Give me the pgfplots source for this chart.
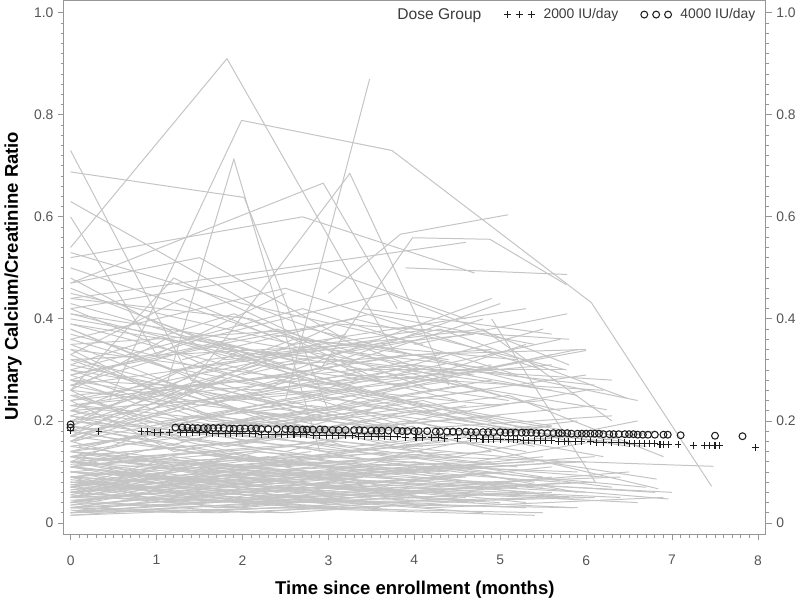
\documentclass[border=0pt]{standalone}
\usepackage{fontspec}
\setmainfont{Liberation Sans}
\usepackage{pgfplots}
\pgfplotsset{compat=1.18}
\usetikzlibrary{calc}
\definecolor{trajgray}{RGB}{196,196,196}
\definecolor{axisgray}{RGB}{150,150,150}
\definecolor{labgray}{RGB}{85,85,85}
\definecolor{legtext}{RGB}{60,60,60}
\definecolor{markblack}{RGB}{30,30,30}

% one grey subject trajectory
\newcommand{\tr}[1]{\addplot[traj] coordinates {#1};}

\pgfplotsset{
  chartbase/.style={
    scale only axis, width=531pt, height=403.5pt,
    xmin=-0.077, xmax=8.09, ymin=-0.022, ymax=1.023,
    axis line style={axisgray, line width=0.75pt},
    tick style={axisgray, line width=0.6pt},
    major tick length=4.5pt, minor tick length=2.5pt,
    tick align=outside,
    ytick={0,0.2,0.4,0.6,0.8,1.0},
    yticklabels={0,0.2,0.4,0.6,0.8,1.0},
    minor y tick num=9,
    tick label style={font=\fontsize{10.5}{12}\selectfont, text=labgray},
    /pgf/number format/assume math mode=true,
  },
  traj/.style={trajgray, line width=0.75pt, forget plot, no markers},
  threemarks/.style={legend image code/.code={
      \draw[##1,mark repeat=1,mark phase=1] plot coordinates {(0pt,0pt) (9pt,0pt) (18pt,0pt)};
      \path (25pt,0pt);}},
}

\begin{document}
\begin{tikzpicture}
\begin{axis}[chartbase,
  xtick={0,1,2,3,4,5,6,7,8}, minor x tick num=9,
  xtick pos=bottom, ytick pos=left,
  xticklabel style={yshift=-8pt},
  xlabel={Time since enrollment (months)},
  ylabel={Urinary Calcium/Creatinine Ratio},
  label style={font=\bfseries\fontsize{14}{16}\selectfont, text=black},
  xlabel style={at={(axis description cs:0.5,-0.105)}, anchor=center},
  ylabel style={at={(axis description cs:-0.0537,0.484)}, anchor=south},
  legend columns=-1,
  legend style={at={(rel axis cs:0.995,0.997)}, anchor=north east, draw=none, fill=none,
    font=\fontsize{10.5}{12}\selectfont, text=legtext,
    /tikz/every even column/.append style={column sep=15pt}},
]
\addlegendimage{empty legend}
\addlegendentry{\fontsize{11.8}{13}\selectfont Dose Group}

% 2000 IU/day
\addplot[only marks, mark=+, mark size=2.6pt, markblack, line width=0.8pt, threemarks] coordinates {
(0,.181)(0.33,.180)(0.82,.179)(0.9,.179)(0.98,.178)(1.05,.178)(1.15,.178)(1.28,.177)
(1.35,.177)(1.42,.177)(1.5,.177)(1.58,.177)(1.65,.176)(1.72,.176)(1.8,.176)(1.86,.176)
(1.93,.175)(2.0,.175)(2.08,.175)(2.15,.175)(2.22,.174)(2.3,.174)(2.38,.174)(2.45,.174)
(2.52,.173)(2.6,.173)(2.68,.173)(2.75,.173)(2.83,.172)(2.9,.172)(2.98,.172)(3.05,.172)
(3.12,.171)(3.2,.171)(3.28,.171)(3.35,.170)(3.42,.170)(3.5,.170)(3.58,.169)(3.65,.169)
(3.72,.169)(3.8,.169)(3.9,.168)(4.02,.168)(4.1,.167)(4.2,.167)(4.28,.167)(4.35,.166)
(4.5,.166)(4.65,.165)(4.72,.165)(4.8,.164)(4.86,.164)(4.92,.164)(5.0,.163)(5.1,.163)
(5.15,.163)(5.2,.163)(5.27,.162)(5.33,.162)(5.4,.162)(5.47,.161)(5.53,.161)(5.6,.161)
(5.68,.160)(5.75,.160)(5.8,.160)(5.88,.159)(5.95,.159)(6.05,.159)(6.12,.158)(6.2,.158)
(6.3,.157)(6.38,.157)(6.45,.157)(6.5,.156)(6.56,.156)(6.62,.156)(6.68,.155)(6.74,.155)
(6.8,.155)(6.86,.154)(6.9,.154)(6.96,.154)(7.07,.153)(7.25,.152)(7.38,.152)(7.44,.151)
(7.5,.151)(7.55,.151)(7.97,.148)
};
\addlegendentry{2000 IU/day}

% 4000 IU/day
\addplot[only marks, mark=o, mark size=2.6pt, markblack, line width=0.8pt, threemarks] coordinates {
(0,.193)(0,.187)(1.22,.187)(1.3,.187)(1.36,.187)(1.42,.186)(1.48,.186)(1.55,.186)(1.6,.186)
(1.66,.186)(1.72,.186)(1.78,.186)(1.85,.185)(1.9,.185)(1.97,.185)(2.03,.185)(2.1,.185)
(2.16,.185)(2.22,.184)(2.3,.184)(2.4,.184)(2.5,.184)(2.56,.184)(2.63,.183)(2.7,.183)
(2.75,.183)(2.82,.183)(2.9,.183)(2.96,.183)(3.05,.182)(3.12,.182)(3.2,.182)(3.3,.182)
(3.36,.182)(3.42,.181)(3.5,.181)(3.56,.181)(3.62,.181)(3.7,.181)(3.8,.181)(3.86,.180)
(3.92,.180)(4.0,.180)(4.05,.180)(4.15,.180)(4.25,.179)(4.3,.179)(4.38,.179)(4.45,.179)
(4.52,.179)(4.6,.179)(4.66,.178)(4.72,.178)(4.8,.178)(4.86,.178)(4.92,.178)(5.0,.178)
(5.06,.177)(5.12,.177)(5.18,.177)(5.25,.177)(5.3,.177)(5.36,.177)(5.42,.176)(5.48,.176)
(5.55,.176)(5.62,.176)(5.68,.176)(5.72,.176)(5.78,.176)(5.83,.175)(5.9,.175)(5.95,.175)
(6.0,.175)(6.05,.175)(6.1,.175)(6.15,.175)(6.2,.174)(6.27,.174)(6.32,.174)(6.38,.174)
(6.45,.174)(6.5,.174)(6.55,.174)(6.6,.173)(6.66,.173)(6.72,.173)(6.8,.173)(6.9,.173)
(6.95,.173)(7.1,.172)(7.5,.171)(7.82,.170)
};
\addlegendentry{4000 IU/day}

% individual subjects: low values
\tr{(0,.05)(1.9,.09)(4.1,.06)}
\tr{(0,.08)(2.3,.04)(5.2,.07)}
\tr{(0,.03)(1.5,.06)(3.8,.04)(6.1,.05)}
\tr{(0.05,.11)(2.0,.07)(4.6,.09)}
\tr{(0,.02)(2.6,.03)(5.5,.02)}
\tr{(0,.07)(1.2,.13)(3.3,.08)}
\tr{(0.1,.09)(2.8,.05)(5.9,.08)}
\tr{(0,.04)(1.7,.08)(4.4,.11)(6.3,.07)}
\tr{(0,.12)(2.4,.06)(4.9,.10)}
\tr{(0,.06)(3.1,.10)(5.8,.05)}
\tr{(0,.015)(2.2,.04)(3.9,.025)}
\tr{(0.05,.10)(1.4,.05)(3.6,.12)(5.4,.08)}
\tr{(0,.035)(2.9,.07)(6.6,.04)}
\tr{(0,.13)(1.8,.10)(4.8,.06)}
\tr{(0,.05)(2.5,.12)(5.1,.07)}
\tr{(0,.09)(1.1,.04)(3.4,.09)}
\tr{(0.1,.025)(2.0,.06)(4.2,.03)(6.9,.05)}
\tr{(0,.07)(2.7,.03)(5.6,.09)}
\tr{(0,.11)(1.6,.14)(3.7,.07)}
\tr{(0,.045)(2.1,.02)(4.5,.05)}
\tr{(0,.14)(2.3,.09)(4.0,.12)(5.9,.06)}
\tr{(0,.06)(1.3,.09)(3.2,.05)}
\tr{(0.05,.08)(3.0,.13)(6.2,.09)}
\tr{(0,.03)(1.9,.05)(5.3,.03)}
\tr{(0,.10)(2.6,.08)(4.7,.04)}
\tr{(0,.055)(1.5,.11)(4.3,.07)(6.5,.10)}
\tr{(0,.12)(2.2,.05)(3.5,.08)}
\tr{(0,.02)(2.8,.06)(5.0,.04)}
\tr{(0.1,.07)(1.7,.03)(4.1,.06)}
\tr{(0,.09)(2.4,.12)(5.7,.08)}
\tr{(0,.04)(1.0,.07)(3.3,.11)}
\tr{(0,.13)(3.1,.07)(6.0,.05)}
\tr{(0,.065)(2.0,.09)(4.6,.05)}
\tr{(0,.11)(1.4,.08)(3.9,.13)(5.5,.09)}
\tr{(0,.03)(2.5,.02)(4.8,.045)}
\tr{(0.05,.08)(2.9,.10)(6.8,.06)}
\tr{(0,.05)(1.8,.13)(4.4,.10)}
\tr{(0,.10)(2.7,.04)(5.2,.06)}
\tr{(0,.075)(1.2,.06)(3.6,.03)}
\tr{(0,.14)(2.1,.11)(4.9,.14)}
\tr{(0,.02)(1.6,.04)(3.8,.07)(6.4,.05)}
\tr{(0,.06)(3.2,.09)(5.8,.12)}
\tr{(0.1,.12)(2.3,.07)(4.2,.05)}
\tr{(0,.04)(2.0,.10)(5.4,.06)}
\tr{(0,.085)(1.9,.05)(3.4,.09)}
\tr{(0,.115)(2.6,.13)(4.7,.08)(7.0,.06)}
\tr{(0,.035)(1.3,.07)(4.0,.05)}
\tr{(0,.09)(2.8,.06)(5.6,.11)}
\tr{(0,.06)(2.2,.14)(4.5,.09)}
\tr{(0,.13)(1.5,.07)(3.7,.10)}
\tr{(1.0,.05)(3.0,.08)(5.3,.04)}
\tr{(1.4,.10)(3.5,.06)(6.1,.08)}
\tr{(0.8,.03)(2.5,.05)(4.8,.02)}
\tr{(2.0,.07)(4.1,.11)(6.7,.07)}
\tr{(1.2,.12)(3.3,.09)(5.5,.13)}
\tr{(0,.015)(2.4,.03)(5.4,.015)}
\tr{(0,.025)(1.7,.02)(3.9,.035)(5.9,.03)}
\tr{(0,.05)(2.9,.04)(5.7,.05)}
\tr{(0,.07)(1.1,.10)(2.8,.14)}
\tr{(0,.10)(2.0,.13)(3.6,.10)(6.0,.12)}
\tr{(0,.03)(2.2,.08)}
\tr{(0,.09)(1.6,.05)}
\tr{(0,.06)(2.8,.11)}
\tr{(0,.12)(2.5,.09)}
\tr{(0,.04)(1.9,.03)(3.6,.06)}
\tr{(0,.08)(2.1,.06)(5.0,.10)}
\tr{(0,.11)(3.0,.06)}
\tr{(0,.07)(1.4,.12)(4.2,.08)}
\tr{(0,.05)(2.6,.07)(5.8,.05)}
\tr{(0,.10)(1.8,.08)(3.5,.05)}
\tr{(0,.13)(2.9,.10)(5.4,.12)}
\tr{(0,.02)(1.2,.05)(3.1,.03)}
\tr{(0,.09)(2.3,.13)(4.0,.08)}
\tr{(0,.06)(1.5,.04)(4.7,.07)}
\tr{(0,.14)(2.0,.08)(3.9,.11)}
\tr{(0,.04)(2.7,.09)(6.0,.06)}
\tr{(0,.11)(1.3,.07)}
\tr{(0,.075)(2.4,.10)(5.5,.07)}
\tr{(0,.03)(3.3,.05)(5.85,.03)}
\tr{(0,.15)(1.9,.11)(4.5,.13)}
\tr{(0,.08)(2.2,.04)(3.8,.07)}
\tr{(0,.05)(1.7,.10)(4.9,.12)}
\tr{(0,.12)(2.6,.15)(4.3,.10)}
\tr{(0,.10)(3.2,.07)(6.4,.09)}
\tr{(0,.065)(1.1,.09)(3.0,.12)}
\tr{(0,.13)(2.0,.16)(5.2,.11)}
\tr{(0,.09)(1.6,.12)(4.1,.14)}
\tr{(0,.02)(2.5,.04)(5.6,.06)}
\tr{(0,.06)(2.9,.03)(4.6,.05)}
\tr{(0,.17)(2.3,.12)(4.4,.09)}
\tr{(0.05,.045)(1.8,.07)(3.4,.09)}
\tr{(0,.07)(2.7,.12)(5.9,.10)}
\tr{(0,.16)(1.4,.10)(3.7,.14)}
\tr{(0,.11)(2.1,.14)(4.8,.11)}
\tr{(0,.03)(1.3,.02)(3.5,.04)}
\tr{(0,.14)(2.8,.09)(6.1,.13)}
\tr{(0,.055)(2.0,.03)(4.0,.06)}
\tr{(0,.19)(1.7,.14)(3.3,.10)}
\tr{(0,.08)(2.4,.05)(5.0,.08)}
\tr{(0,.12)(3.1,.16)(5.7,.12)}
% middle values
\tr{(0,.18)(2.1,.12)(4.4,.16)}
\tr{(0,.22)(1.8,.15)(3.9,.20)(6.2,.13)}
\tr{(0,.16)(2.5,.24)(5.0,.14)}
\tr{(0.05,.25)(1.4,.18)(3.5,.22)}
\tr{(0,.20)(2.9,.13)(5.6,.19)}
\tr{(0,.14)(1.9,.22)(4.6,.17)}
\tr{(0,.27)(2.3,.19)(4.1,.24)(5.8,.16)}
\tr{(0,.19)(1.2,.26)(3.2,.15)}
\tr{(0,.23)(2.7,.17)(6.3,.21)}
\tr{(0.1,.15)(2.0,.20)(4.8,.26)}
\tr{(0,.30)(1.6,.21)(3.7,.17)}
\tr{(0,.17)(2.4,.28)(5.2,.18)}
\tr{(0,.21)(3.0,.14)(5.9,.17)}
\tr{(0,.26)(1.3,.16)(3.4,.23)(6.5,.15)}
\tr{(0,.13)(2.2,.21)(4.3,.13)}
\tr{(0,.24)(2.6,.29)(4.9,.20)}
\tr{(0,.18)(1.7,.13)(4.0,.19)}
\tr{(0,.28)(2.8,.20)(5.5,.24)}
\tr{(0.05,.16)(1.5,.24)(3.8,.16)}
\tr{(0,.22)(2.1,.17)(4.7,.12)(6.8,.18)}
\tr{(0,.15)(3.1,.23)(5.4,.15)}
\tr{(0,.31)(1.9,.24)(4.2,.28)}
\tr{(0,.19)(2.5,.14)(4.5,.22)}
\tr{(0,.25)(1.1,.19)(3.3,.26)}
\tr{(0,.14)(2.3,.19)(5.1,.25)(6.9,.13)}
\tr{(0,.20)(2.7,.27)(5.8,.18)}
\tr{(0,.29)(1.6,.20)(4.4,.16)}
\tr{(0,.17)(2.0,.25)(3.6,.19)}
\tr{(0.1,.23)(3.0,.18)(6.1,.23)}
\tr{(0,.12)(1.4,.21)(4.1,.15)}
\tr{(1.1,.20)(3.2,.26)(5.6,.19)}
\tr{(1.8,.15)(4.0,.22)(6.4,.16)}
\tr{(0.9,.27)(2.9,.18)(5.0,.21)}
\tr{(2.2,.18)(4.5,.13)(6.6,.20)}
\tr{(1.5,.23)(3.8,.30)(5.7,.22)}
\tr{(0,.21)(2.4,.12)(4.8,.18)}
\tr{(0,.16)(1.8,.28)(4.3,.21)(6.0,.26)}
\tr{(0,.26)(2.6,.21)(5.3,.14)}
\tr{(0,.13)(2.1,.16)(3.9,.24)}
\tr{(0,.24)(1.2,.14)(3.5,.20)}
\tr{(0,.18)(2.8,.23)(6.7,.15)}
\tr{(0,.28)(2.0,.16)(4.6,.23)}
\tr{(0,.15)(1.7,.19)(4.9,.28)}
\tr{(0,.20)(3.3,.15)(5.9,.20)}
\tr{(0.05,.32)(2.2,.23)(4.0,.18)}
\tr{(0,.11)(1.9,.18)(3.7,.13)(5.5,.19)}
\tr{(0,.19)(2.5,.11)(4.4,.14)}
\tr{(0,.23)(1.5,.27)(3.1,.21)}
\tr{(0,.21)(2.2,.31)(5.1,.24)}
\tr{(0,.33)(1.9,.19)(4.6,.27)}
\tr{(0,.24)(2.6,.33)(5.6,.26)}
\tr{(0,.19)(1.3,.30)(3.8,.22)}
\tr{(0,.27)(3.0,.34)(5.9,.25)}
\tr{(0,.36)(2.4,.24)(4.9,.31)}
\tr{(0,.22)(1.6,.32)(4.2,.38)}
\tr{(0,.30)(2.9,.22)(5.3,.35)}
\tr{(0,.17)(2.0,.34)(4.7,.29)}
\tr{(0,.26)(1.1,.36)(3.5,.25)(5.6,.33)}
\tr{(0,.39)(2.7,.27)(5.0,.23)}
\tr{(0,.23)(3.3,.29)(6.2,.26)}
\tr{(0,.32)(1.5,.23)(4.3,.33)}
\tr{(0,.18)(2.3,.31)(4.1,.36)}
\tr{(0,.35)(2.8,.38)(5.4,.27)}
\tr{(0.9,.22)(3.1,.39)(5.8,.36)}
\tr{(1.7,.34)(3.9,.24)(6.0,.29)}
\tr{(2.1,.26)(4.4,.30)(6.3,.28)}
\tr{(0,.25)(2.1,.28)(3.9,.33)}
\tr{(0,.29)(1.8,.35)(4.5,.24)}
\tr{(0,.43)(2.5,.31)(4.9,.34)}
\tr{(0,.38)(1.2,.30)(3.6,.36)}
\tr{(0,.20)(2.6,.36)(5.2,.32)}
\tr{(0,.34)(3.2,.27)(5.7,.36)}
\tr{(0,.16)(1.4,.27)(4.0,.31)(6.1,.27)}
\tr{(0,.28)(2.2,.26)(4.8,.40)}
\tr{(0,.41)(1.9,.36)(3.3,.32)}
\tr{(0,.22)(2.9,.26)(5.5,.38)}
\tr{(3.4,.42)(5.6,.37)}
\tr{(2.3,.27)(5.0,.43)}
\tr{(4.2,.13)(7.48,.111)}
\tr{(4.5,.16)(6.84,.067)}
\tr{(4.6,.08)(6.96,.047)}
\tr{(5.5,.12)(6.82,.086)}
\tr{(4.9,.40)(6.11,.079)}
% upper values
\tr{(0,.35)(2.0,.22)(4.5,.28)}
\tr{(0,.42)(1.7,.30)(3.9,.19)}
\tr{(0,.29)(2.4,.38)(5.0,.25)}
\tr{(0,.46)(2.9,.27)(5.6,.31)}
\tr{(0,.33)(1.3,.44)(3.4,.29)}
\tr{(0,.39)(2.2,.33)(4.8,.38)(6.3,.20)}
\tr{(0,.31)(1.9,.41)(4.2,.26)}
\tr{(0,.45)(2.6,.35)(5.3,.42)}
\tr{(0,.37)(3.0,.24)(5.9,.34)}
\tr{(0,.28)(1.5,.36)(3.7,.45)(5.8,.31)}
\tr{(0,.41)(2.8,.29)(4.6,.20)}
\tr{(0,.34)(1.1,.25)(3.2,.37)}
\tr{(0,.50)(2.3,.37)(4.4,.32)}
\tr{(0,.30)(2.7,.42)(5.2,.29)}
\tr{(0,.38)(1.6,.27)(4.0,.33)(6.0,.34)}
\tr{(0,.44)(2.1,.40)(3.6,.28)}
\tr{(0,.32)(3.4,.35)(6.6,.24)}
\tr{(0,.48)(1.8,.32)(4.7,.37)}
\tr{(0,.36)(2.5,.46)(5.5,.30)}
\tr{(0,.27)(1.4,.34)(3.3,.40)(5.77,.30)}
\tr{(1.3,.32)(3.5,.41)(5.4,.35)}
\tr{(2.0,.29)(4.3,.38)(6.47,.245)}
\tr{(0.9,.40)(2.6,.30)(4.9,.44)}
\tr{(1.6,.36)(3.8,.27)(6.0,.338)}
\tr{(0,.40)(3.1,.31)(6.24,.222)}
\tr{(0,.53)(2.0,.43)(4.1,.35)}
\tr{(0,.47)(1.5,.52)(3.2,.36)}
\tr{(0,.42)(2.9,.50)(4.6,.40)}
\tr{(0,.26)(1.2,.48)(3.0,.34)(5.0,.30)}
% highest trajectories
\tr{(0,.54)(1.82,.91)(3.75,.34)}
\tr{(0.45,.24)(1.99,.789)(3.74,.73)(6.06,.432)(7.46,.072)}
\tr{(2.5,.24)(3.48,.87)}
\tr{(0,.73)(1.4,.28)(3.0,.20)}
\tr{(0,.688)(2.02,.638)(3.0,.22)}
\tr{(1.1,.26)(1.9,.713)(2.9,.14)}
\tr{(1.3,.25)(3.25,.685)(4.4,.27)}
\tr{(0,.47)(2.94,.666)(3.8,.42)}
\tr{(3.0,.45)(3.84,.566)(5.09,.604)}
\tr{(2.9,.30)(3.98,.559)(4.88,.556)(5.77,.467)}
\tr{(0,.63)(2.2,.42)(4.1,.30)}
\tr{(0,.52)(2.7,.60)(4.7,.49)}
\tr{(0,.60)(1.0,.33)(2.5,.45)}
\tr{(3.9,.50)(5.78,.487)}
\tr{(4.0,.35)(5.78,.41)}
\tr{(3.2,.30)(5.77,.30)}
\tr{(0,.44)(4.6,.55)}
\end{axis}
\begin{axis}[chartbase, hide x axis, axis y line*=right, ytick pos=right, yticklabel pos=right]
\addplot[draw=none, forget plot] coordinates {(0,0)};
\end{axis}
\path ($(current axis.south west)+(-45pt,-46.5pt)$) rectangle ($(current axis.north east)+(24pt,0.75pt)$);
\end{tikzpicture}
\end{document}
